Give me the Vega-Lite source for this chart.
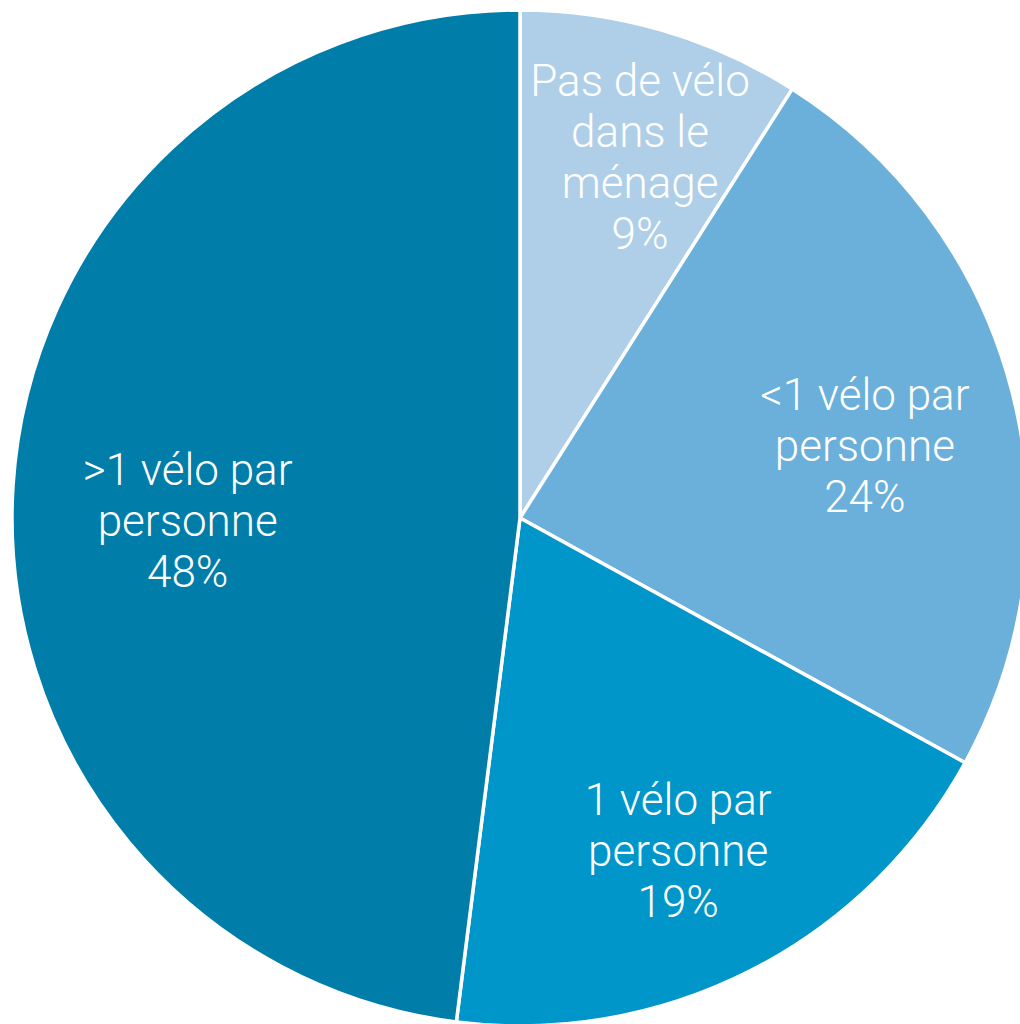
{
  "$schema": "https://vega.github.io/schema/vega-lite/v6.json",
  "width": 1040,
  "height": 1036,
  "padding": 0,
  "autosize": {"type": "none"},
  "background": "white",
  "config": {
    "view": {"stroke": null},
    "text": {
      "radius": 355,
      "lineBreak": "\n",
      "lineHeight": 51,
      "fontSize": 44,
      "font": "Roboto",
      "fontWeight": 300,
      "fill": "white",
      "align": "center",
      "baseline": "middle"
    }
  },
  "data": {
    "values": [
      {"i": 1, "category": "Pas de vélo dans le ménage", "label": "Pas de vélo\ndans le\nménage\n9%", "share": 9},
      {"i": 2, "category": "<1 vélo par personne", "label": "<1 vélo par\npersonne\n24%", "share": 24},
      {"i": 3, "category": "1 vélo par personne", "label": "1 vélo par\npersonne\n19%", "share": 19},
      {"i": 4, "category": ">1 vélo par personne", "label": ">1 vélo par\npersonne\n48%", "share": 48}
    ]
  },
  "encoding": {
    "theta": {"field": "share", "type": "quantitative", "stack": true},
    "order": {"field": "i", "type": "quantitative"}
  },
  "layer": [
    {
      "mark": {"type": "arc", "outerRadius": 508, "stroke": "white", "strokeWidth": 3.5},
      "encoding": {
        "color": {
          "field": "category",
          "type": "nominal",
          "scale": {
            "domain": ["Pas de vélo dans le ménage", "<1 vélo par personne", "1 vélo par personne", ">1 vélo par personne"],
            "range": ["#aecfe7", "#6ab0da", "#0096c9", "#007da9"]
          },
          "legend": null
        }
      }
    },
    {
      "mark": {"type": "text", "dx": 21, "dy": -94},
      "encoding": {
        "text": {"condition": {"test": "datum.i == 1", "field": "label"}, "value": ""}
      }
    },
    {
      "mark": {"type": "text", "dx": 1, "dy": -33},
      "encoding": {
        "text": {"condition": {"test": "datum.i == 2", "field": "label"}, "value": ""}
      }
    },
    {
      "mark": {"type": "text", "dx": -3, "dy": -32},
      "encoding": {
        "text": {"condition": {"test": "datum.i == 3", "field": "label"}, "value": ""}
      }
    },
    {
      "mark": {"type": "text", "dx": 22, "dy": -24},
      "encoding": {
        "text": {"condition": {"test": "datum.i == 4", "field": "label"}, "value": ""}
      }
    }
  ]
}
